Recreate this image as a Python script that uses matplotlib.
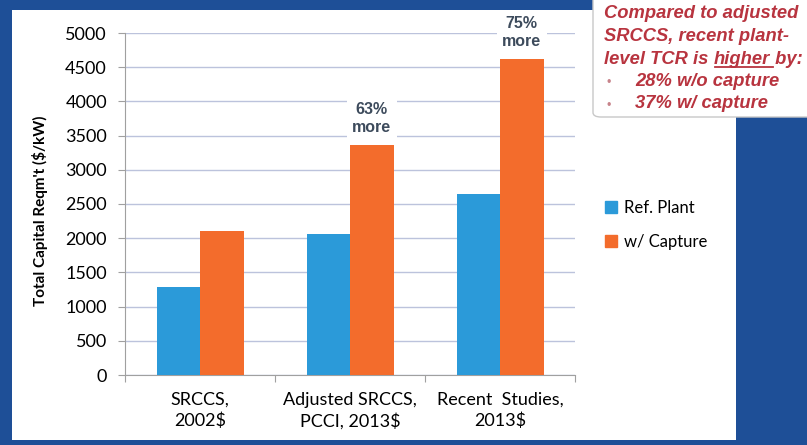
import matplotlib.pyplot as plt
from matplotlib.patches import Rectangle, FancyBboxPatch
from matplotlib.lines import Line2D

categories = ["SRCCS,\n2002$", "Adjusted SRCCS,\nPCCI, 2013$", "Recent  Studies,\n2013$"]
ref_plant = [1290, 2060, 2640]
w_capture = [2110, 3360, 4620]
annotations = {1: "63%\nmore", 2: "75%\nmore"}
note_lines = ["Compared to adjusted", "SRCCS, recent plant-", "level TCR is ", "higher", " by:",
              "\u2022", "28% w/o capture", "37% w/ capture"]

BLUE = "#2b9ad9"
ORANGE = "#f36c2c"
BG = "#1e4f97"
NOTE = "#b8343f"
FONT = "Lato"

fig = plt.figure(figsize=(8.07, 4.45), dpi=100)
fig.patch.set_facecolor(BG)

# white slide panel
fig.patches.append(Rectangle((12 / 807, 1 - 440 / 445), (736 - 12) / 807, (440 - 10) / 445,
                             transform=fig.transFigure, facecolor="white", edgecolor="none", zorder=0))

ax = fig.add_axes([125 / 807, 1 - 375 / 445, 450 / 807, (375 - 33) / 445])
ax.set_facecolor("none")
ax.set_zorder(2)

x = range(len(categories))
w = 0.29
ax.bar([i - w / 2 for i in x], ref_plant, w, color=BLUE, label="Ref. Plant", zorder=3)
ax.bar([i + w / 2 for i in x], w_capture, w, color=ORANGE, label="w/ Capture", zorder=3)

for i, txt in annotations.items():
    ax.annotate(txt, (i + w / 2, w_capture[i]), xytext=(0, 7), textcoords="offset points",
                ha="center", va="bottom", fontsize=11.5, fontweight="bold", family="Liberation Sans",
                color="#3d4b5c", linespacing=1.3, zorder=4,
                bbox=dict(facecolor="white", edgecolor="none", pad=4))

ax.set_xlim(-0.5, 2.5)
ax.set_ylim(0, 5000)
ax.set_yticks(range(0, 5001, 500))
ax.tick_params(axis="y", labelsize=13, length=5, color="#a0a0a0", pad=8)
for lab in ax.get_yticklabels():
    lab.set_family(FONT)
ax.set_xticks([-0.5, 0.5, 1.5, 2.5])
ax.set_xticklabels([])
ax.set_xticks(list(x), minor=True)
ax.set_xticklabels(categories, minor=True, fontsize=13, family=FONT, linespacing=1.35)
ax.tick_params(axis="x", which="major", length=5, color="#a0a0a0")
ax.tick_params(axis="x", which="minor", length=0, pad=12)
ax.grid(axis="y", color="#bcc3dc", linewidth=1, zorder=0)
for s in ["top", "right"]:
    ax.spines[s].set_visible(False)
for s in ["left", "bottom"]:
    ax.spines[s].set_color("#a0a0a0")
ax.set_ylabel("Total Capital Reqm't ($/kW)", fontsize=11, fontweight="bold", family=FONT)
ax.yaxis.set_label_coords(-0.17, 0.48)

handles = [Line2D([], [], marker="s", linestyle="none", markersize=8, color=BLUE),
           Line2D([], [], marker="s", linestyle="none", markersize=8, color=ORANGE)]
fig.legend(handles, ["Ref. Plant", "w/ Capture"], loc="center left",
           bbox_to_anchor=(579 / 807, 1 - 225 / 445), frameon=False,
           handletextpad=-0.2, labelspacing=1.1, prop={"family": FONT, "size": 12})

# note box top right
fig.patches.append(FancyBboxPatch((593 / 807, 1 - 117 / 445), 230 / 807, 130 / 445,
                                  boxstyle="round,pad=0,rounding_size=0.01",
                                  transform=fig.transFigure, facecolor="white",
                                  edgecolor="#c8c8c8", linewidth=1, zorder=5))
kw = dict(fontsize=13.2, fontweight="bold", style="italic", color=NOTE, va="baseline",
          family="Liberation Sans", zorder=6)
x0 = 604 / 807
x1 = 635 / 807
ys = [1 - b / 445 for b in (18.5, 41, 63.5, 86, 108.5)]
fig.text(x0, ys[0], note_lines[0], **kw)
fig.text(x0, ys[1], note_lines[1], **kw)
t1 = fig.text(x0, ys[2], note_lines[2], **kw)
fig.canvas.draw()
r = fig.canvas.get_renderer()
inv = fig.transFigure.inverted()
b1 = inv.transform(t1.get_window_extent(r))
t2 = fig.text(b1[1][0], ys[2], note_lines[3], **kw)
b2 = inv.transform(t2.get_window_extent(r))
fig.text(b2[1][0], ys[2], note_lines[4], **kw)
fig.add_artist(Line2D([b2[0][0] + 0.002, b2[1][0] + 0.004], [ys[2] - 0.007, ys[2] - 0.007],
                      transform=fig.transFigure, color=NOTE, linewidth=1.3, zorder=6))
bkw = dict(kw, fontsize=9, color="#c7838a", fontweight="normal", style="normal")
fig.text(x0 + 0.003, ys[3], note_lines[5], **bkw)
fig.text(x1, ys[3], note_lines[6], **kw)
fig.text(x0 + 0.003, ys[4], note_lines[5], **bkw)
fig.text(x1, ys[4], note_lines[7], **kw)

fig.savefig("out.png", dpi=100, facecolor=fig.get_facecolor())
